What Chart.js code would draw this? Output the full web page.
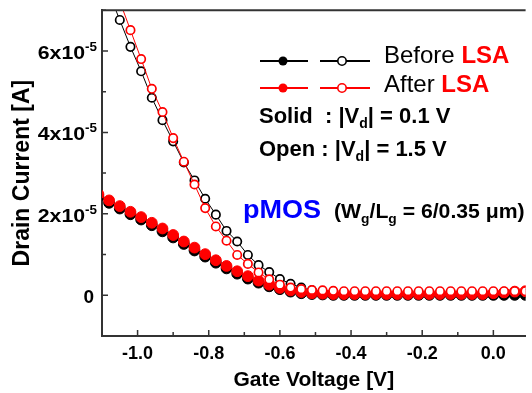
<!DOCTYPE html>
<html>
<head>
<meta charset="utf-8">
<script src="https://cdn.jsdelivr.net/npm/chart.js@4.4.1/dist/chart.umd.min.js"></script>
<style>
  html, body { margin: 0; padding: 0; background: #fff; }
  #wrap { width: 532px; height: 393px; }
</style>
</head>
<body>
<div id="wrap"><canvas id="idvg" width="532" height="393"></canvas></div>
<script>
// gate voltage sweep [V]
const vg = [-1.11, -1.08, -1.05, -1.02, -0.99, -0.96, -0.93, -0.90, -0.87, -0.84,
  -0.81, -0.78, -0.75, -0.72, -0.69, -0.66, -0.63, -0.60, -0.57, -0.54,
  -0.51, -0.48, -0.45, -0.42, -0.39, -0.36, -0.33, -0.30, -0.27, -0.24,
  -0.21, -0.18, -0.15, -0.12, -0.09, -0.06, -0.03, 0.00, 0.03, 0.06, 0.09];

// drain current, in units of 1e-5 A
// solid: |Vd| = 0.1 V
const idSolidBefore = [2.42, 2.27, 2.13, 1.99, 1.86, 1.72, 1.57, 1.42, 1.26, 1.10,
  0.95, 0.80, 0.66, 0.53, 0.41, 0.31, 0.22, 0.15, 0.09, 0.05,
  0.03, 0.02, 0.01, 0.01, 0.01, 0.01, 0.01, 0.01, 0.01, 0.01,
  0.01, 0.01, 0.01, 0.01, 0.01, 0.01, 0.01, 0.01, 0.01, 0.01, 0.01];
const idSolidAfter = [2.48, 2.33, 2.19, 2.05, 1.92, 1.78, 1.64, 1.48, 1.32, 1.17,
  1.01, 0.86, 0.72, 0.59, 0.47, 0.36, 0.26, 0.18, 0.12, 0.08,
  0.05, 0.04, 0.03, 0.03, 0.03, 0.03, 0.03, 0.03, 0.03, 0.03,
  0.03, 0.03, 0.03, 0.03, 0.03, 0.03, 0.03, 0.05, 0.07, 0.09, 0.10];
// open: |Vd| = 1.5 V
const idOpenBefore = [8.07, 7.41, 6.76, 6.10, 5.50, 4.85, 4.30, 3.78, 3.26, 2.82,
  2.37, 1.98, 1.58, 1.32, 0.99, 0.74, 0.57, 0.40, 0.28, 0.19,
  0.12, 0.09, 0.07, 0.05, 0.05, 0.05, 0.05, 0.05, 0.05, 0.05,
  0.05, 0.05, 0.05, 0.05, 0.05, 0.05, 0.05, 0.05, 0.05, 0.05, 0.05];
const idOpenAfter = [8.63, 7.92, 7.22, 6.51, 5.80, 5.07, 4.50, 3.86, 3.28, 2.72,
  2.14, 1.69, 1.34, 0.99, 0.77, 0.56, 0.39, 0.26, 0.19, 0.15,
  0.13, 0.12, 0.11, 0.10, 0.10, 0.10, 0.10, 0.10, 0.10, 0.10,
  0.10, 0.10, 0.10, 0.10, 0.10, 0.10, 0.10, 0.10, 0.10, 0.10, 0.10];

const xTicks = [-1.1, -1.0, -0.9, -0.8, -0.7, -0.6, -0.5, -0.4, -0.3, -0.2, -0.1, 0.0];
const yTicks = [-1, 0, 1, 2, 3, 4, 5, 6, 7];

const SANS = '"Liberation Sans", Arial, sans-serif';
const AXIS = '#333';

const pts = (ys) => vg.map((v, i) => ({ x: v, y: ys[i] }));

function series(ys, color, open, order) {
  return {
    data: pts(ys),
    borderColor: color,
    borderWidth: 1,
    pointRadius: open ? 4.2 : 5.4,
    pointBorderWidth: open ? 1.7 : 1,
    pointBorderColor: color,
    pointBackgroundColor: open ? '#fff' : color,
    tension: 0,
    clip: 0,
    order: order,
  };
}

// draws text pieces one after another (for sub/superscripts)
function rich(ctx, x, y, parts, sx) {
  ctx.save();
  ctx.translate(x, y);
  ctx.scale(sx || 1, 1);
  let cx = 0;
  for (const p of parts) {
    ctx.font = p.font;
    ctx.fillStyle = p.color || '#000';
    ctx.fillText(p.text, cx, p.dy || 0);
    cx += ctx.measureText(p.text).width;
  }
  ctx.restore();
}

function richWidth(ctx, parts) {
  let w = 0;
  for (const p of parts) {
    ctx.font = p.font;
    w += ctx.measureText(p.text).width;
  }
  return w;
}

const decor = {
  id: 'decor',
  afterDraw(chart) {
    const { ctx, chartArea: a, scales: { x, y } } = chart;
    ctx.save();

    // frame top + inward ticks
    ctx.strokeStyle = AXIS;
    ctx.lineWidth = 2;
    ctx.beginPath();
    ctx.moveTo(a.left - 1, a.top);
    ctx.lineTo(a.right, a.top);
    ctx.stroke();

    ctx.lineWidth = 1.5;
    ctx.beginPath();
    xTicks.forEach((v) => {
      const px = x.getPixelForValue(v);
      const len = Math.round(v * 10) % 2 === 0 ? 6 : 4;
      ctx.moveTo(px, a.bottom);
      ctx.lineTo(px, a.bottom - len);
    });
    yTicks.forEach((v) => {
      if (v === -1) return;
      const py = y.getPixelForValue(v);
      const len = v % 2 === 0 ? 6 : 4;
      ctx.moveTo(a.left, py);
      ctx.lineTo(a.left + len, py);
    });
    ctx.stroke();

    // y tick labels with superscript exponent
    ctx.textAlign = 'left';
    ctx.textBaseline = 'alphabetic';
    const t19 = 'bold 19px ' + SANS;
    const t12 = 'bold 12px ' + SANS;
    yTicks.forEach((v) => {
      if (v < 0 || v % 2 !== 0) return;
      const py = y.getPixelForValue(v);
      const parts = v === 0
        ? [{ text: '0', font: t19 }]
        : [{ text: v + 'x10', font: t19 }, { text: '-5', font: t12, dy: -8 }];
      const sx = v === 0 ? 1 : 1.12;
      const right = v === 0 ? 94 : 97;
      rich(ctx, right - richWidth(ctx, parts) * sx, py + 8, parts, sx);
    });

    // legend rows
    const rows = [
      { color: '#000', y: 61, label: 'Before ', tb: 63 },
      { color: '#ff0000', y: 88, label: 'After ', tb: 92 },
    ];
    rows.forEach((r) => {
      ctx.strokeStyle = r.color;
      ctx.lineWidth = 2;
      ctx.beginPath();
      ctx.moveTo(260, r.y); ctx.lineTo(308, r.y);
      ctx.moveTo(320, r.y); ctx.lineTo(370, r.y);
      ctx.stroke();
      ctx.fillStyle = r.color;
      ctx.beginPath();
      ctx.arc(283, r.y, 4.5, 0, Math.PI * 2);
      ctx.fill();
      ctx.fillStyle = '#fff';
      ctx.lineWidth = 1.6;
      ctx.beginPath();
      ctx.arc(342, r.y, 4.2, 0, Math.PI * 2);
      ctx.fill();
      ctx.stroke();
      rich(ctx, 384, r.tb, [
        { text: r.label, font: '24px ' + SANS, color: '#000' },
        { text: 'LSA', font: 'bold 24px ' + SANS, color: '#ff0000' },
      ]);
    });

    const b22 = 'bold 22px ' + SANS;
    const s14 = 'bold 14px ' + SANS;
    rich(ctx, 259, 123, [
      { text: 'Solid  : |V', font: b22 },
      { text: 'd', font: s14, dy: 5 },
      { text: '| = 0.1 V', font: b22 },
    ]);
    rich(ctx, 259, 156, [
      { text: 'Open : |V', font: b22 },
      { text: 'd', font: s14, dy: 5 },
      { text: '| = 1.5 V', font: b22 },
    ]);

    rich(ctx, 243, 218, [
      { text: 'pMOS', font: 'bold 26px ' + SANS, color: '#0000ff' },
    ], 1.04);
    const b20 = 'bold 20px ' + SANS;
    const s13 = 'bold 13px ' + SANS;
    rich(ctx, 334, 218, [
      { text: '(W', font: b20 },
      { text: 'g', font: s13, dy: 5 },
      { text: '/L', font: b20 },
      { text: 'g', font: s13, dy: 5 },
      { text: ' = 6/0.35 \u03bcm)', font: b20 },
    ], 1.06);

    ctx.restore();
  },
};

new Chart(document.getElementById('idvg'), {
  type: 'line',
  data: {
    datasets: [
      series(idSolidBefore, '#000', false, 3),
      series(idOpenBefore, '#000', true, 2),
      series(idSolidAfter, '#ff0000', false, 1),
      series(idOpenAfter, '#ff0000', true, 0),
    ],
  },
  options: {
    responsive: false,
    animation: false,
    layout: { padding: { top: 9, right: 0, left: 0, bottom: 0 } },
    plugins: { legend: { display: false }, tooltip: { enabled: false } },
    scales: {
      x: {
        type: 'linear',
        min: -1.1,
        max: 0.0906,
        afterBuildTicks: (s) => { s.ticks = xTicks.map((v) => ({ value: v })); },
        afterFit: (s) => { s.height = 57; },
        grid: { display: false, drawTicks: false },
        border: { display: true, color: AXIS, width: 2 },
        ticks: {
          autoSkip: false,
          maxRotation: 0,
          padding: 7,
          color: '#000',
          font: { family: SANS, size: 18, weight: 'bold' },
          callback: (v) => (Math.round(v * 10) % 2 === 0 ? v.toFixed(1) : ''),
        },
        title: {
          display: true,
          text: 'Gate Voltage [V]',
          color: '#000',
          font: { family: SANS, size: 21, weight: 'bold' },
          padding: { top: 0, bottom: 0 },
        },
      },
      y: {
        min: -1,
        max: 7,
        afterBuildTicks: (s) => { s.ticks = yTicks.map((v) => ({ value: v })); },
        afterFit: (s) => { s.width = 102; },
        grid: { display: false, drawTicks: false },
        border: { display: true, color: AXIS, width: 2 },
        ticks: {
          autoSkip: false,
          // labels with exponents are drawn by the decor plugin
          callback: () => '',
        },
        title: {
          display: true,
          text: 'Drain Current [A]',
          color: '#000',
          font: { family: SANS, size: 23, weight: 'bold' },
          padding: { top: 9, bottom: 0 },
        },
      },
    },
  },
  plugins: [decor],
});
</script>
</body>
</html>
